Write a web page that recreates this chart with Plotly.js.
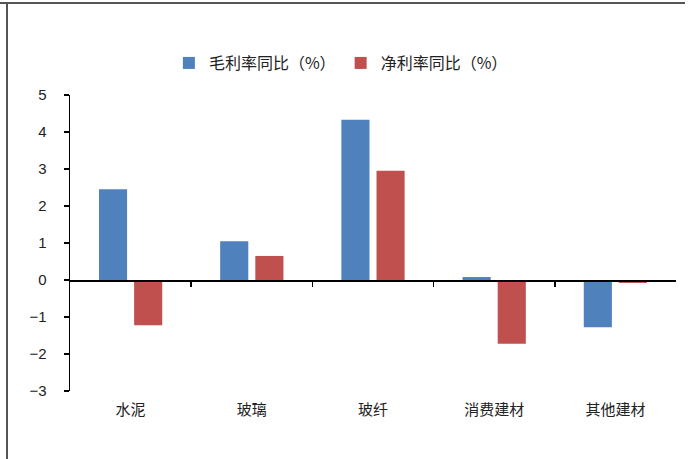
<!DOCTYPE html>
<html>
<head>
<meta charset="utf-8">
<script src="https://cdn.plot.ly/plotly-3.0.1.min.js"></script>
<style>
  html, body { margin: 0; padding: 0; background: #fff; }
  #wrap { position: relative; width: 694px; height: 459px; }
  #chart { position: absolute; left: 0; top: 0; width: 694px; height: 459px; }
  .frameTop { position: absolute; left: 0; top: 2px; width: 685px; height: 2px; background: #555; z-index: 5; }
  .frameLeft { position: absolute; left: 6px; top: 2px; width: 2px; height: 457px; background: #555; z-index: 5; }
</style>
</head>
<body>
<div id="wrap">
  <div id="chart"></div>
  <div class="frameTop"></div>
  <div class="frameLeft"></div>
</div>
<script>
const categories = ['水泥', '玻璃', '玻纤', '消费建材', '其他建材'];
const grossMarginYoY = [2.45, 1.05, 4.33, 0.08, -1.28];
const netMarginYoY = [-1.22, 0.65, 2.95, -1.72, -0.08];
const seriesNames = ['毛利率同比（%）', '净利率同比（%）'];
const yTicks = [-3, -2, -1, 0, 1, 2, 3, 4, 5];

const cjk = '"Noto Sans CJK SC", "Noto Sans CJK JP", sans-serif';

const traces = [
  { type: 'bar', name: seriesNames[0], x: categories, y: grossMarginYoY,
    marker: { color: '#4F81BD' }, hoverinfo: 'skip' },
  { type: 'bar', name: seriesNames[1], x: categories, y: netMarginYoY,
    marker: { color: '#C0504D' }, hoverinfo: 'skip' },
  { type: 'scatter', x: [], y: [], xaxis: 'x2', yaxis: 'y', showlegend: false, hoverinfo: 'skip' }
];

const layout = {
  width: 694, height: 459,
  margin: { l: 70, r: 18, t: 95, b: 68 },
  paper_bgcolor: '#fff', plot_bgcolor: '#fff',
  barmode: 'group', bargap: 0.42, bargroupgap: 0.2,
  showlegend: true,
  legend: { orientation: 'h', x: 0.447, xanchor: 'center', y: 1.108, yanchor: 'middle',
            font: { family: cjk, size: 16, color: '#222' }, itemwidth: 30, traceorder: 'normal' },
  xaxis: { type: 'category', range: [-0.5, 4.5], showline: false, ticks: '', showgrid: false,
           zeroline: false, ticklabelstandoff: 8,
           tickfont: { family: cjk, size: 15, color: '#222' } },
  xaxis2: { overlaying: 'x', anchor: 'free', position: 0.375, range: [-0.5, 4.5],
            showline: true, linecolor: '#000', linewidth: 1.5, ticks: 'outside', ticklen: 5,
            tickwidth: 1.5, tickcolor: '#000', tickvals: [0.5, 1.5, 2.5, 3.5],
            showticklabels: false, showgrid: false, zeroline: false },
  yaxis: { range: [-3, 5], tickvals: yTicks, showline: true, linecolor: '#000', linewidth: 1.5,
           ticks: 'outside', ticklen: 5, tickwidth: 1.5, tickcolor: '#000', showgrid: false,
           zeroline: false, ticklabelstandoff: 14,
           tickfont: { family: 'Liberation Sans, Arial, sans-serif', size: 15, color: '#222' } }
};

Plotly.newPlot('chart', traces, layout, { staticPlot: true, displayModeBar: false });
</script>
</body>
</html>
